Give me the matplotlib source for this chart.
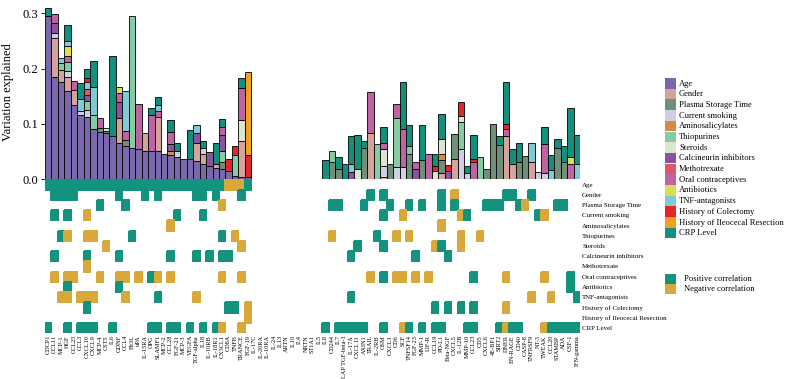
import numpy as np
import matplotlib.pyplot as plt
from matplotlib.patches import Rectangle
from matplotlib.colors import ListedColormap

plt.rcParams['font.family'] = ['Liberation Serif', 'DejaVu Serif']

# covariates (stack order, heatmap rows, legend order)
codes = ["A", "G", "P", "S", "M", "T", "St", "C", "Mx", "O", "Ab", "TNF", "Col", "Ile", "CRP"]
cov_names = ["Age", "Gender", "Plasma Storage Time", "Current smoking", "Aminosalicylates",
             "Thiopurines", "Steroids", "Calcineurin inhibitors", "Methotrexate",
             "Oral contraceptives", "Antibiotics", "TNF-antagonists", "History of Colectomy",
             "History of Ileocecal Resection", "CRP Level"]
cov_colors = ["#7a68ad", "#d4a39b", "#6f8f79", "#cdd0e3", "#d58a45", "#86cca3", "#dae6cf",
              "#8b52a1", "#d9586c", "#c063a3", "#d9e04f", "#80c9d6", "#e2262b", "#f3a021",
              "#13907b"]
pos_color = "#13937e"
neg_color = "#d8a83a"

proteins_left = ["CDCP1", "CCL11", "MCP-1", "HGF", "CCL25", "CCL3", "CXCL10", "CXCL9", "MCP-4",
                 "CST5", "IL6", "GDNF", "CCL4", "Flt3L", "uPA", "IL-15RA", "OPG", "SLAMF1",
                 "MCP-2", "CCL28", "FGF-21", "MCP-3", "VEGFA", "TGF-alpha", "IL18", "IL-10RB",
                 "IL-18R1", "CX3CL1", "CD8A", "TNFB", "TRANCE", "FGF-19"]
proteins_none = ["IL-17C", "IL-20RA", "IL-10RA", "IL-24", "IL13", "ARTN", "IL10", "IL4",
                 "NRTN", "ST1A1", "IL5"]
proteins_right = ["IL8", "CD244", "IL7", "LAP TGF-beta-1", "IL-17A", "CXCL11", "AXIN1", "TRAIL",
                  "IL-2RB", "OSM", "CXCL1", "CD6", "SCF", "TNFSF14", "FGF-23", "MMP-1", "LIF-R",
                  "CCL19", "PD-L1", "Beta-NGF", "CXCL5", "IL-12B", "MMP-10", "CCL23", "CD5",
                  "CXCL6", "4E-BP1", "SIRT2", "DNER", "EN-RAGE", "CD40", "CASP-8", "TNFRSF9",
                  "NT-3", "TWEAK", "CCL20", "STAMBP", "ADA", "CSF-1", "IFN-gamma"]
proteins = proteins_left + proteins_none + proteins_right

# stacked bars: cumulative top of each segment
bars_left = [
    [("A", .295), ("CRP", .309)],
    [("A", .185), ("G", .255), ("S", .264), ("C", .282), ("O", .298)],
    [("A", .175), ("G", .197), ("T", .21), ("TNF", .219)],
    [("A", .16), ("G", .184), ("S", .196), ("T", .211), ("O", .222), ("Ab", .24), ("TNF", .249), ("CRP", .278)],
    [("A", .134), ("G", .161), ("O", .178)],
    [("A", .116), ("S", .124), ("TNF", .145), ("CRP", .173)],
    [("A", .112), ("S", .125), ("T", .142), ("C", .152), ("Mx", .163), ("TNF", .175), ("Col", .183), ("CRP", .199)],
    [("A", .09), ("T", .116), ("TNF", .166), ("CRP", .213)],
    [("A", .085), ("P", .092), ("O", .11)],
    [("A", .083), ("P", .086), ("St", .093)],
    [("A", .077), ("CRP", .223)],
    [("A", .066), ("G", .11), ("C", .14), ("O", .155), ("Ab", .166)],
    [("A", .059), ("P", .07), ("O", .086), ("TNF", .16)],
    [("A", .057), ("T", .295)],
    [("A", .054), ("O", .136)],
    [("A", .051), ("G", .083)],
    [("A", .05), ("O", .116), ("CRP", .128)],
    [("A", .05), ("G", .112), ("O", .124), ("TNF", .134), ("CRP", .149)],
    [("A", .045)],
    [("A", .043), ("M", .05), ("C", .063), ("O", .085), ("CRP", .106)],
    [("A", .04), ("S", .05), ("CRP", .066)],
    [("A", .036)],
    [("A", .036), ("CRP", .089)],
    [("A", .033), ("G", .065), ("C", .083), ("TNF", .097)],
    [("A", .028), ("G", .046), ("S", .056), ("CRP", .068)],
    [("A", .024), ("C", .048)],
    [("A", .02), ("G", .028), ("CRP", .065)],
    [("A", .019), ("P", .03), ("T", .05), ("C", .08), ("O", .094), ("CRP", .108)],
    [("A", .015), ("Col", .036)],
    [("A", .005), ("T", .043), ("Col", .06)],
    [("A", .004), ("G", .068), ("St", .106), ("O", .164), ("CRP", .182)],
    [("A", .004), ("Col", .043), ("Ile", .193)],
]
bars_right = [
    [("CRP", .034)],
    [("P", .03), ("T", .05)],
    [("P", .019), ("CRP", .039)],
    [("CRP", .027)],
    [("C", .012), ("TNF", .028), ("CRP", .077)],
    [("St", .018), ("CRP", .08)],
    [("P", .057), ("CRP", .069)],
    [("G", .083), ("O", .158)],
    [("T", .063)],
    [("G", .004), ("S", .024), ("St", .054), ("O", .065), ("CRP", .095)],
    [("P", .028)],
    [("S", .022), ("T", .11), ("O", .136)],
    [("S", .022), ("O", .09), ("CRP", .175)],
    [("P", .046), ("T", .06), ("CRP", .097)],
    [("C", .019), ("O", .03)],
    [("P", .034), ("CRP", .097)],
    [("O", .046)],
    [("St", .015), ("Col", .024), ("CRP", .045)],
    [("G", .011), ("P", .034), ("M", .045), ("St", .072), ("CRP", .118)],
    [("C", .015), ("Col", .025)],
    [("G", .037), ("P", .081)],
    [("S", .054), ("T", .104), ("St", .114), ("Col", .139)],
    [("S", .011), ("CRP", .024)],
    [("O", .03), ("Col", .037), ("CRP", .08)],
    [("T", .039)],
    [("P", .019)],
    [("P", .1)],
    [("P", .062), ("CRP", .078)],
    [("G", .078), ("O", .09), ("Col", .1), ("CRP", .176)],
    [("G", .028), ("CRP", .054)],
    [("P", .031), ("CRP", .065)],
    [("P", .042)],
    [("G", .03), ("TNF", .066)],
    [("S", .012)],
    [("S", .01), ("O", .063), ("CRP", .094)],
    [("TNF", .016), ("CRP", .043)],
    [("P", .057), ("CRP", .072)],
    [("P", .03), ("CRP", .06)],
    [("O", .027), ("Ab", .039), ("CRP", .128)],
    [("TNF", .027), ("CRP", .079)],
]
bars = bars_left + [[] for _ in proteins_none] + bars_right

# heatmap: protein indices with significant positive / negative correlation
pos_cells = {
    "A": list(range(0, 28)) + [31],
    "G": [1, 2, 3, 4, 11, 15, 17, 23, 24, 26, 30, 50, 52, 61, 71, 72, 75],
    "P": [8, 12, 44, 45, 49, 53, 56, 58, 61, 63, 68, 69, 70, 73, 79, 80],
    "S": [1, 3, 20, 24, 52, 65, 76],
    "M": [],
    "T": [2, 13, 27, 51],
    "St": [48, 52, 61],
    "C": [1, 6, 11, 19, 23, 25, 27, 28, 47, 57, 62],
    "Mx": [],
    "O": [16, 52, 66, 81],
    "Ab": [3, 11, 81],
    "TNF": [17, 47, 82],
    "Col": [6, 28, 29, 60, 62, 64, 66],
    "Ile": [],
    "CRP": [0, 3, 5, 6, 7, 10, 16, 17, 19, 20, 22, 24, 26, 43, 45, 46, 47, 48, 49, 52, 56,
            58, 60, 61, 65, 66, 70, 72, 73, 78, 79, 80, 81, 82],
}
neg_cells = {
    "A": [28, 29, 30],
    "G": [63],
    "P": [27, 74],
    "S": [6, 55, 64, 77],
    "M": [19, 61],
    "T": [3, 6, 7, 29, 44, 54, 56, 64, 67],
    "St": [9, 30, 60, 64],
    "C": [],
    "Mx": [6],
    "O": [1, 3, 4, 8, 11, 12, 14, 17, 19, 27, 30, 50, 54, 55, 57, 59, 71, 77],
    "Ab": [],
    "TNF": [2, 3, 5, 6, 7, 12, 23, 75, 78],
    "Col": [31, 71],
    "Ile": [31],
    "CRP": [27, 30, 55, 71, 77],
}

W, H = 787, 379
fig = plt.figure(figsize=(W / 100, H / 100), dpi=100)

x0, x1 = 45, 580
ax = fig.add_axes([x0 / W, (H - 179) / H, (x1 - x0) / W, 174 / H])
ax_h = fig.add_axes([x0 / W, (H - 333) / H, (x1 - x0) / W, 153.5 / H])

col_of = dict(zip(codes, cov_colors))
for i, segs in enumerate(bars):
    bottom = 0.0
    for code, top in segs:
        ax.bar(i, top - bottom, bottom=bottom, width=1.0, color=col_of[code],
               edgecolor="black", linewidth=0.6)
        bottom = top

ax.set_xlim(-0.5, len(proteins) - 0.5)
ax.set_ylim(0, 0.315)
ax.set_yticks([0.0, 0.1, 0.2, 0.3])
ax.set_yticklabels(["0.0", "0.1", "0.2", "0.3"], fontsize=9)
ax.set_xticks([])
ax.tick_params(axis="y", length=3, width=0.6, pad=2)
for s in ["top", "right", "bottom", "left"]:
    ax.spines[s].set_visible(False)
ax.set_ylabel("Variation explained", fontsize=9, labelpad=6)

# heatmap grid
grid = np.full((len(codes), len(proteins)), np.nan)
for r, code in enumerate(codes):
    grid[r, pos_cells[code]] = 1
    grid[r, neg_cells[code]] = -1
ax_h.pcolormesh(np.arange(len(proteins) + 1) - 0.5, np.arange(len(codes) + 1) - 0.5,
                np.ma.masked_invalid(grid), cmap=ListedColormap([neg_color, pos_color]),
                vmin=-1, vmax=1, edgecolors="face", linewidth=0.2)
ax_h.set_xlim(-0.5, len(proteins) - 0.5)
ax_h.set_ylim(len(codes) - 0.5, -0.5)
ax_h.set_xticks(range(len(proteins)))
ax_h.set_xticklabels(proteins, rotation=90, fontsize=4.5)
ax_h.yaxis.tick_right()
ax_h.set_yticks(range(len(codes)))
ax_h.set_yticklabels(cov_names, fontsize=5)
ax_h.tick_params(length=0, pad=1.5)
for s in ax_h.spines.values():
    s.set_visible(False)

# legends drawn in pixel coordinates
lax = fig.add_axes([0, 0, 1, 1])
lax.set_xlim(0, W)
lax.set_ylim(H, 0)
lax.axis("off")
for k, (name, c) in enumerate(zip(cov_names, cov_colors)):
    y = 78 + k * 10.7
    lax.add_patch(Rectangle((665, y), 10.5, 10.5, facecolor=c, edgecolor="none"))
    lax.text(679, y + 5.5, name, fontsize=6.1, va="center", ha="left")
for k, (name, c) in enumerate([("Positive correlation", pos_color),
                               ("Negative correlation", neg_color)]):
    y = 274 + k * 10
    lax.add_patch(Rectangle((665, y), 10.5, 10, facecolor=c, edgecolor="none"))
    lax.text(684, y + 5, name, fontsize=6.1, va="center", ha="left")

fig.savefig("out.png", dpi=100)
